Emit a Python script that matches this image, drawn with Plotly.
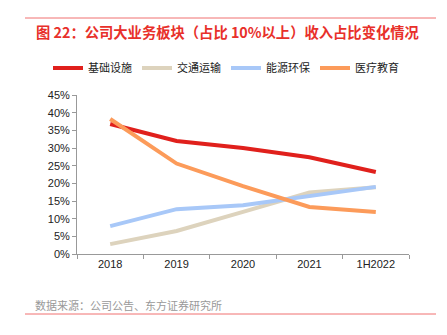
import plotly.graph_objects as go

categories = ["2018", "2019", "2020", "2021", "1H2022"]
jichu = [36.8, 32.0, 30.0, 27.4, 23.2]
jiaotong = [2.8, 6.5, 11.9, 17.4, 18.9]
nengyuan = [7.9, 12.7, 13.8, 16.4, 19.0]
yiliao = [38.2, 25.6, 19.2, 13.3, 11.9]
names = ["基础设施", "交通运输", "能源环保", "医疗教育"]
colors = ["#e0201c", "#ddd3bd", "#a8c8f8", "#fc9b5a"]
yticks = [0, 5, 10, 15, 20, 25, 30, 35, 40, 45]

fig = go.Figure()
for name, vals, c in zip(names, [jichu, jiaotong, nengyuan, yiliao], colors):
    fig.add_trace(go.Scatter(x=categories, y=vals, name=name, mode="lines",
                             line=dict(color=c, width=4)))

font = "Noto Sans CJK SC, sans-serif"
tickfont = "Liberation Sans, Arial, sans-serif"
fig.update_layout(
    width=447, height=335,
    margin=dict(l=77, r=38, t=95, b=81, autoexpand=False),
    paper_bgcolor="white", plot_bgcolor="white",
    font=dict(family=font, size=11, color="#222"),
    showlegend=True,
    legend=dict(orientation="h", x=(48 - 77) / 332, xanchor="left",
                y=(335 - 68 - 81) / 159, yanchor="middle",
                font=dict(size=11, color="#222", family=font),
                entrywidth=44, entrywidthmode="pixels", tracegroupgap=0),
    xaxis=dict(type="category", showline=True, linecolor="#999", linewidth=1,
               ticks="outside", tickson="boundaries", ticklen=4, tickcolor="#999",
               showgrid=False, tickfont=dict(size=11, color="#222", family=tickfont),
               range=[-0.5, 4.5]),
    yaxis=dict(range=[0, 45], tickvals=yticks, ticktext=[f"{v}%" for v in yticks],
               showline=True, linecolor="#999", linewidth=1, ticks="outside",
               ticklen=4, tickcolor="#999", showgrid=False, zeroline=False,
               tickfont=dict(size=11, color="#222", family=tickfont)),
)

fig.add_annotation(text="<b>图 22：公司大业务板块（占比 10%以上）收入占比变化情况</b>",
                   xref="paper", yref="paper", x=(34-77)/332, xanchor="left",
                   y=(335-31-81)/159, yanchor="middle", showarrow=False,
                   font=dict(size=14.3, color="#e8302a", family=font))
fig.add_annotation(text="数据来源：公司公告、东方证券研究所",
                   xref="paper", yref="paper", x=(33-77)/332, xanchor="left",
                   y=(335-305-81)/159, yanchor="middle", showarrow=False,
                   font=dict(size=11, color="#999", family=font))
fig.add_shape(type="line", xref="paper", yref="paper",
              x0=(25-77)/332, x1=(436-77)/332, y0=(335-18-81)/159, y1=(335-18-81)/159,
              line=dict(color="#f07070", width=1))
fig.add_shape(type="line", xref="paper", yref="paper",
              x0=(25-77)/332, x1=(436-77)/332, y0=(335-314-81)/159, y1=(335-314-81)/159,
              line=dict(color="#f07070", width=1))

fig.write_html("out.html")
